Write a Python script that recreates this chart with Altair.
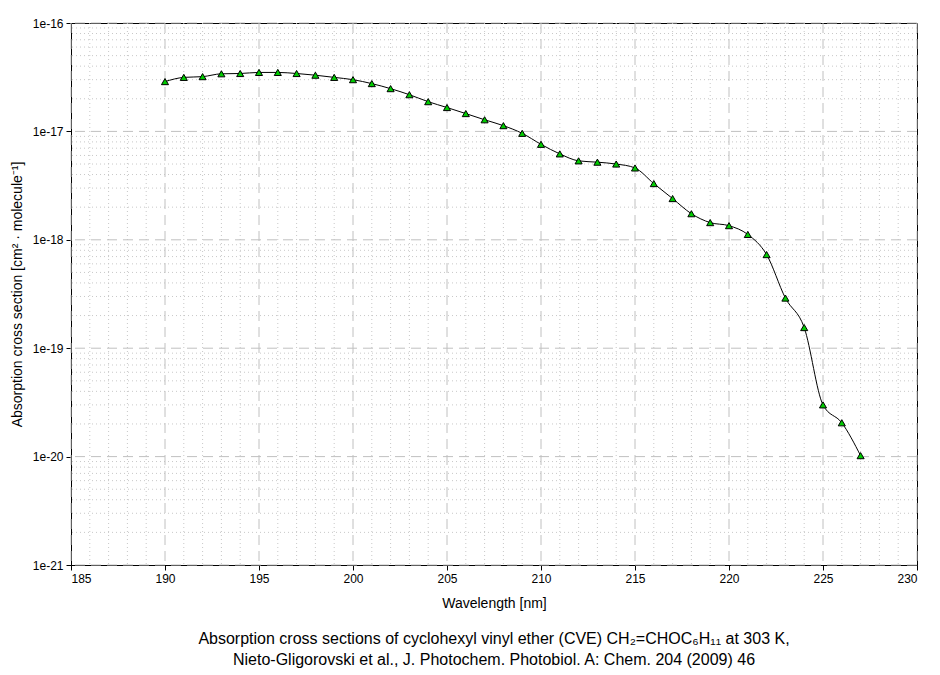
import altair as alt
import pandas as pd

wavelength = list(range(190, 228))
cross_section = [
    2.88e-17, 3.15e-17, 3.2e-17, 3.4e-17, 3.42e-17, 3.5e-17, 3.5e-17, 3.42e-17,
    3.3e-17, 3.15e-17, 3.0e-17, 2.76e-17, 2.48e-17, 2.18e-17, 1.88e-17, 1.66e-17,
    1.46e-17, 1.28e-17, 1.13e-17, 9.6e-18, 7.6e-18, 6.2e-18, 5.35e-18, 5.2e-18,
    5.0e-18, 4.6e-18, 3.3e-18, 2.4e-18, 1.74e-18, 1.44e-18, 1.35e-18, 1.12e-18,
    7.3e-19, 2.9e-19, 1.55e-19, 3.0e-20, 2.05e-20, 1.02e-20,
]

x_ticks = [185, 190, 195, 200, 205, 210, 215, 220, 225, 230]
y_ticks = [1e-21, 1e-20, 1e-19, 1e-18, 1e-17, 1e-16]
x_minor = [v for v in range(186, 230) if v % 5 != 0]
y_minor = [k * 10.0 ** e for e in range(-21, -16) for k in range(2, 10)]

df = pd.DataFrame({"wl": wavelength, "cs": cross_section})

FONT = "Liberation Sans"
X_TITLE = "Wavelength [nm]"
Y_TITLE = "Absorption cross section [cm² · molecule⁻¹]"
xs = alt.Scale(domain=[185, 230], nice=False, zero=False)
ys = alt.Scale(type="log", domain=[1e-21, 1e-16], nice=False)
x_axis = alt.Axis(values=x_ticks, grid=False, format="d")
y_axis = alt.Axis(values=y_ticks, grid=False,
                  labelExpr="'1e' + round(log(datum.value)/LN10)")


def X(field):
    return alt.X(field, scale=xs, axis=x_axis, title=X_TITLE)


def Y(field):
    return alt.Y(field, scale=ys, axis=y_axis, title=Y_TITLE)


minor_x = alt.Chart(pd.DataFrame({"v": x_minor})).mark_rule(
    color="#c8c8c8", strokeWidth=1, strokeDash=[1, 3]
).encode(x=X("v:Q"))

minor_y = alt.Chart(pd.DataFrame({"v": y_minor})).mark_rule(
    color="#c8c8c8", strokeWidth=1, strokeDash=[1, 3]
).encode(y=Y("v:Q"))

major_x = alt.Chart(pd.DataFrame({"v": x_ticks})).mark_rule(
    color="#c0c0c0", strokeWidth=1, strokeDash=[10, 6]
).encode(x=X("v:Q"))

major_y = alt.Chart(pd.DataFrame({"v": y_ticks})).mark_rule(
    color="#c0c0c0", strokeWidth=1, strokeDash=[10, 6]
).encode(y=Y("v:Q"))

line = alt.Chart(df).mark_line(color="black", strokeWidth=1, interpolate="monotone").encode(
    x=X("wl:Q"), y=Y("cs:Q"),
)

points = alt.Chart(df).mark_point(
    shape="triangle-up", filled=True, fill="#00cc00", stroke="black",
    strokeWidth=1, size=50, opacity=1
).encode(x=X("wl:Q"), y=Y("cs:Q"))

chart = alt.layer(minor_x, minor_y, major_x, major_y, line, points).properties(
    width=846,
    height=542,
    autosize=alt.AutoSizeParams(type="none"),
    padding={"left": 63, "top": 15, "right": 12, "bottom": 108},
    title=alt.TitleParams(
        text=["Absorption cross sections of cyclohexyl vinyl ether (CVE) CH₂=CHOC₆H₁₁ at 303 K,",
              "Nieto-Gligorovski et al., J. Photochem. Photobiol. A: Chem. 204 (2009) 46"],
        orient="bottom", anchor="middle", font=FONT, fontSize=16,
        fontWeight="normal", color="black", offset=21, lineHeight=21,
    ),
).configure_view(stroke="black", strokeWidth=1).configure_axis(
    domainColor="black", tickColor="black", tickSize=5, labelColor="black",
    labelFont=FONT, labelFontSize=12, titleFont=FONT, titleFontSize=14,
    titleFontWeight="normal", titleColor="black", labelPadding=3,
).configure_axisX(titlePadding=12).configure_axisY(titlePadding=8)

chart.save("out.html", embed_options={"renderer": "svg", "actions": False})
